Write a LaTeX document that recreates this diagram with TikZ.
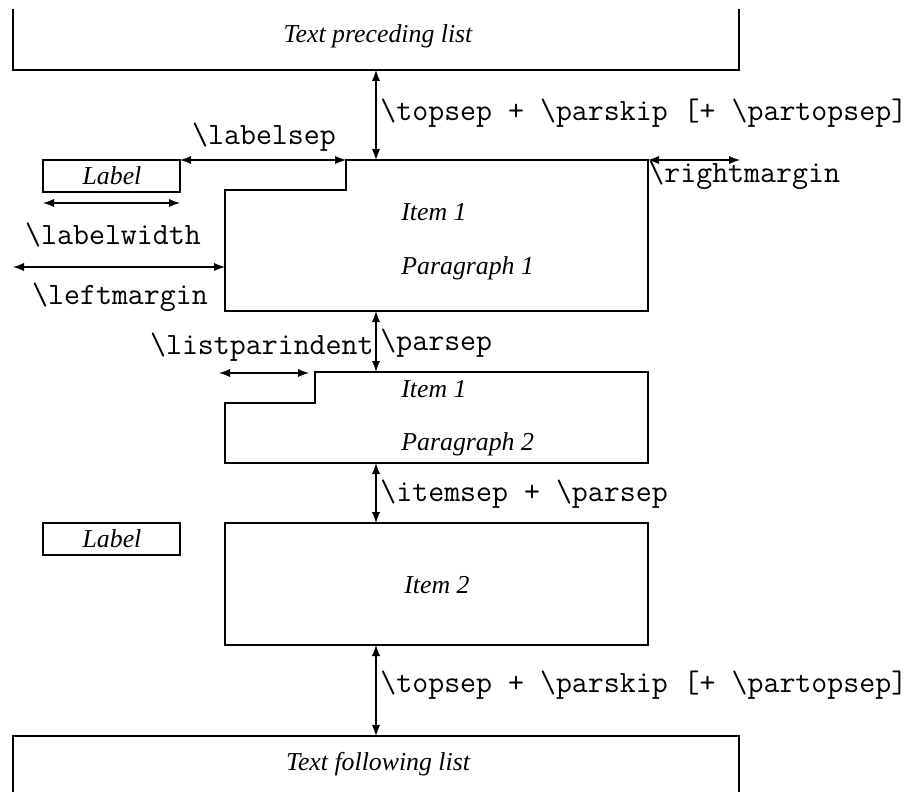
\documentclass[tikz,border=0pt]{standalone}
\usepackage{fontspec}
\setmainfont{Liberation Serif}
\usetikzlibrary{calc}

\tikzset{
  box/.style={line width=1.2pt, line join=miter},
  dimline/.style={<->, >=latex, line width=0.9pt},
  itxt/.style={font=\fontsize{12.9}{14}\selectfont\itshape, inner sep=0pt},
  cmd/.style={font=\fontsize{15.5}{17}\selectfont\ttfamily, inner sep=0pt},
}

\begin{document}
\begin{tikzpicture}[x=0.5pt,y=-0.5pt]
    \useasboundingbox (0,0) rectangle (909,792);
    % text before and after the list
    \draw[box] (13,9)--(13,70)--(739,70)--(739,9);
    \node[itxt] (pre) at (378,36) {Text preceding list};
    \draw[box] (13,792)--(13,736)--(739,736)--(739,792);
    \node[itxt] (post) at (378,764) {Text following list};
    % first item, two paragraphs
    \coordinate (it1-top) at (376,160);
    \coordinate (it1-step) at (346,160);
    \coordinate (it1-right) at (648,160);
    \coordinate (it1-left) at (225,267);
    \coordinate (it1-bot) at (376,311);
    \draw[box] (it1-step)--(it1-right)--(648,311)--(225,311)--(225,190)--(346,190)--cycle;
    \node[itxt,anchor=west] (item1a) at (401,212) {Item 1};
    \node[itxt,anchor=west] (par1) at (401,268) {Paragraph 1};
    \coordinate (it1b-top) at (376,372);
    \coordinate (it1b-bot) at (376,463);
    \draw[box] (315,372)--(648,372)--(648,463)--(225,463)--(225,403)--(315,403)--cycle;
    \node[itxt,anchor=west] (item1b) at (401,389) {Item 1};
    \node[itxt,anchor=west] (par2) at (401,444) {Paragraph 2};
    % second item
    \coordinate (it2-top) at (376,523);
    \coordinate (it2-bot) at (376,645);
    \draw[box] (225,523) rectangle (648,645);
    \node[itxt,anchor=west] (item2) at (404,585) {Item 2};
    % labels
    \draw[box] (43,160) rectangle (180,192);
    \node[itxt] (lab1) at (112,176) {Label};
    \draw[box] (43,523) rectangle (180,555);
    \node[itxt] (lab2) at (112,539) {Label};
    \coordinate (lab1-ne) at (180,160);
    \coordinate (lw-l) at (43,203);
    \coordinate (lw-r) at (180,203);
    \coordinate (lm-l) at (13,267);
    \coordinate (rm-r) at (740,160);
    \coordinate (lp-l) at (219,373);
    \coordinate (lp-r) at (309,373);
    \coordinate (pre-s) at (376,70);
    \coordinate (post-n) at (376,736);
    % the dimensions
    \draw[dimline] (pre-s)--(it1-top);
    \node[cmd,anchor=west] (topsep1) at (380,113) {\textbackslash topsep + \textbackslash parskip [+ \textbackslash partopsep]};
    \draw[dimline] (lab1-ne)--(it1-step);
    \node[cmd] (labelsep) at (264,137) {\textbackslash labelsep};
    \draw[dimline] (it1-right)--(rm-r);
    \node[cmd,anchor=west] (rightmargin) at (648,175) {\textbackslash rightmargin};
    \draw[dimline] (lw-l)--(lw-r);
    \node[cmd] (labelwidth) at (113,235) {\textbackslash labelwidth};
    \draw[dimline] (lm-l)--(it1-left);
    \node[cmd] (leftmargin) at (120,297) {\textbackslash leftmargin};
    \draw[dimline] (it1-bot)--(it1b-top);
    \node[cmd,anchor=west] (parsep) at (380,343) {\textbackslash parsep};
    \draw[dimline] (lp-l)--(lp-r);
    \node[cmd,anchor=east] (listparindent) at (374,347) {\textbackslash listparindent};
    \draw[dimline] (it1b-bot)--(it2-top);
    \node[cmd,anchor=west] (itemsep) at (380,494) {\textbackslash itemsep + \textbackslash parsep};
    \draw[dimline] (it2-bot)--(post-n);
    \node[cmd,anchor=west] (topsep2) at (380,685) {\textbackslash topsep + \textbackslash parskip [+ \textbackslash partopsep]};
\end{tikzpicture}
\end{document}
